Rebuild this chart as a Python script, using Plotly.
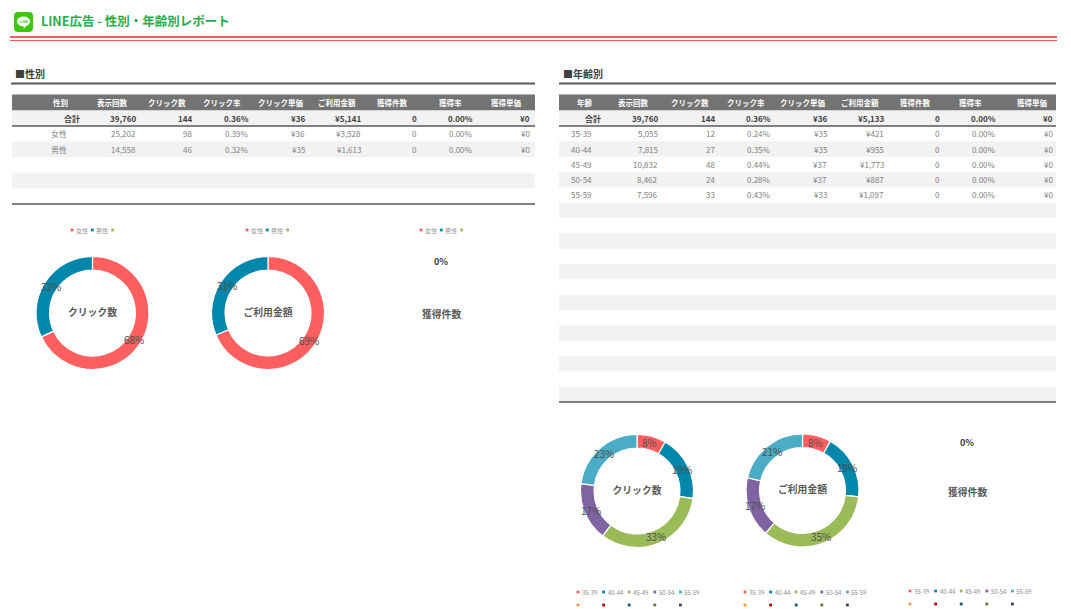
import math
import plotly.graph_objects as go

W, H = 1071, 609
FONT = "Noto Sans CJK JP"

# ---------------- data ----------------
title_text = "LINE広告 - 性別・年齢別レポート"
headers_gender = ["性別", "表示回数", "クリック数", "クリック率", "クリック単価", "ご利用金額", "獲得件数", "獲得率", "獲得単価"]
headers_age = ["年齢", "表示回数", "クリック数", "クリック率", "クリック単価", "ご利用金額", "獲得件数", "獲得率", "獲得単価"]

gender_labels = ["女性", "男性"]
gender_impressions = [25202, 14558]
gender_clicks = [98, 46]
gender_ctr = ["0.39%", "0.32%"]
gender_cpc = [36, 35]
gender_cost = [3528, 1613]
gender_conv = [0, 0]
gender_cvr = ["0.00%", "0.00%"]
gender_cpa = [0, 0]
gender_total = ["合計", "39,760", "144", "0.36%", "¥36", "¥5,141", "0", "0.00%", "¥0"]

age_labels = ["35-39", "40-44", "45-49", "50-54", "55-59"]
age_impressions = [5055, 7815, 10832, 8462, 7596]
age_clicks = [12, 27, 48, 24, 33]
age_ctr = ["0.24%", "0.35%", "0.44%", "0.28%", "0.43%"]
age_cpc = [35, 35, 37, 37, 33]
age_cost = [421, 955, 1773, 887, 1097]
age_conv = [0, 0, 0, 0, 0]
age_cvr = ["0.00%", "0.00%", "0.00%", "0.00%", "0.00%"]
age_cpa = [0, 0, 0, 0, 0]
age_total = ["合計", "39,760", "144", "0.36%", "¥36", "¥5,133", "0", "0.00%", "¥0"]

chart_titles = ["クリック数", "ご利用金額", "獲得件数"]
gender_legend_labels = ["女性", "男性", ""]
age_legend_labels = ["35-39", "40-44", "45-49", "50-54", "55-59"]

# ---------------- style ----------------
C_RED = "#ff5f5f"
C_TEAL = "#0087ab"
C_GREEN = "#9bbb59"
C_PURPLE = "#8064a2"
C_LBLUE = "#4bacc6"
gender_colors = [C_RED, C_TEAL, C_GREEN]
age_colors = [C_RED, C_TEAL, C_GREEN, C_PURPLE, C_LBLUE]
age_colors2 = ["#f79646", "#c00000", "#17596b", "#5f7530", "#4b3b6a"]


def px(x):
    return x / W


def py(y):
    return 1 - y / H


shapes = []
annotations = []


def text(x, y, s, size=8, color="#404040", xanchor="center", bold=False):
    annotations.append(dict(
        x=px(x), y=py(y), xref="paper", yref="paper", text=("<b>%s</b>" % s) if bold else s,
        showarrow=False, xanchor=xanchor, yanchor="middle",
        font=dict(family=FONT, size=size, color=color), borderpad=0))


def rect(x0, y0, x1, y1, color, layer="below"):
    shapes.append(dict(type="rect", xref="paper", yref="paper", x0=px(x0), x1=px(x1),
                       y0=py(y1), y1=py(y0), fillcolor=color, line=dict(width=0), layer=layer))


def hline(x0, x1, y, color, width):
    shapes.append(dict(type="line", xref="paper", yref="paper", x0=px(x0), x1=px(x1),
                       y0=py(y), y1=py(y), line=dict(color=color, width=width)))


def yen(v):
    return "¥{:,}".format(v)


def num(v):
    return "{:,}".format(v)


# ---------------- header ----------------
ix0, ix1, iy0, iy1, rr = 14, 33, 12, 32, 4
path = ("M {a},{b} L {c},{b} Q {x1},{b} {x1},{d} L {x1},{e} Q {x1},{y1} {c},{y1} "
        "L {a},{y1} Q {x0},{y1} {x0},{e} L {x0},{d} Q {x0},{b} {a},{b} Z").format(
    a=px(ix0 + rr), c=px(ix1 - rr), b=py(iy0), d=py(iy0 + rr), e=py(iy1 - rr),
    x0=px(ix0), x1=px(ix1), y1=py(iy1))
shapes.append(dict(type="path", xref="paper", yref="paper", path=path,
                   fillcolor="#3cc80e", line=dict(width=0)))
shapes.append(dict(type="circle", xref="paper", yref="paper", x0=px(17), x1=px(30),
                   y0=py(26.5), y1=py(16.5), fillcolor="white", line=dict(width=0)))
shapes.append(dict(type="path", xref="paper", yref="paper",
                   path="M {},{} L {},{} L {},{} Z".format(px(24), py(25.5), px(27), py(25), px(23.5), py(29)),
                   fillcolor="white", line=dict(width=0)))
text(23.5, 21.5, "LINE", size=3.5, color="#3cc80e", bold=True)
text(40, 21, title_text, size=12.5, color="#1fae4b", xanchor="left", bold=True)
hline(10, 1057, 37, "#ff5a5a", 2)
hline(10, 1057, 40.5, "#ff5a5a", 1)

# section titles
text(14, 73.5, "■性別", size=10, color="#404040", xanchor="left", bold=True)
hline(11, 535, 83.5, "#595959", 2)
text(562, 73.5, "■年齢別", size=10, color="#404040", xanchor="left", bold=True)
hline(559, 1056, 83.5, "#595959", 2)


# ---------------- tables ----------------
def draw_table(x0, x1, centers, rights, label_center, headers, total, rows, n_rows, bottom):
    top, hb, tb = 94.5, 110.5, 126
    rh = (bottom - tb) / n_rows
    rect(x0, top, x1, hb, "#737373")
    rect(x0, hb, x1, tb, "#f2f2f2")
    for i in range(n_rows):
        if i % 2 == 1:
            rect(x0, tb + i * rh, x1, tb + (i + 1) * rh, "#f2f2f2")
    hline(x0, x1, tb, "#595959", 1.5)
    hline(x0, x1, bottom, "#595959", 1.5)
    for k, h in enumerate(headers):
        text(centers[k], (top + hb) / 2, h, size=7.5, color="white", bold=True)
    for k, v in enumerate(total):
        text(rights[k], (hb + tb) / 2, v, size=8, color="#404040", xanchor="right", bold=True)
    for i, row in enumerate(rows):
        yc = tb + (i + 0.5) * rh
        for k, v in enumerate(row):
            if k == 0:
                text(label_center, yc, v, size=8, color="#7f7f7f")
            else:
                text(rights[k], yc, v, size=8, color="#7f7f7f", xanchor="right")


gender_rows = [[gender_labels[i], num(gender_impressions[i]), num(gender_clicks[i]), gender_ctr[i],
                yen(gender_cpc[i]), yen(gender_cost[i]), num(gender_conv[i]), gender_cvr[i], yen(gender_cpa[i])]
               for i in range(len(gender_labels))]
age_rows = [[age_labels[i], num(age_impressions[i]), num(age_clicks[i]), age_ctr[i],
             yen(age_cpc[i]), yen(age_cost[i]), num(age_conv[i]), age_cvr[i], yen(age_cpa[i])]
            for i in range(len(age_labels))]

draw_table(12, 535, [60, 112, 167, 222, 281, 337, 393, 450, 506],
           [81, 137, 193, 250, 306, 362, 418, 474, 531], 59, headers_gender, gender_total, gender_rows, 5, 204)
draw_table(559, 1056, [584.5, 633, 690, 745.5, 803, 860, 915, 970.5, 1032],
           [602, 659, 716, 772, 828, 885, 941, 997, 1054], 581.5, headers_age, age_total, age_rows, 18, 402)


# ---------------- legends ----------------
def legend_row(x_start, step, y, colors, labels):
    for i, c in enumerate(colors):
        xm = x_start + i * step
        shapes.append(dict(type="rect", xref="paper", yref="paper", x0=px(xm - 1.4), x1=px(xm + 1.4),
                           y0=py(y + 1.4), y1=py(y - 1.4), fillcolor=c, line=dict(width=0)))
        if labels[i]:
            text(xm + 3, y, labels[i], size=6, color="#8c8c8c", xanchor="left")


for xs in (72, 247, 421):
    legend_row(xs, 20.3, 230, gender_colors, gender_legend_labels)
for xs, yy in ((578, 592), (745, 592), (910, 591)):
    legend_row(xs, 25.6, yy, age_colors, age_legend_labels)
    legend_row(xs, 25.6, yy + 13, age_colors2, ["", "", "", "", ""])

# ---------------- donuts ----------------
R = 56.5
HOLE = 0.76
fig = go.Figure()


def donut(cx, cy, labels, values, colors, title):
    fig.add_trace(go.Pie(
        labels=labels, values=values, hole=HOLE, sort=False, direction="clockwise", rotation=0,
        domain=dict(x=[px(cx - R), px(cx + R)], y=[py(cy + R), py(cy - R)]),
        marker=dict(colors=colors, line=dict(color="white", width=1.2)),
        textinfo="none",
        title=dict(text="<b>%s</b>" % title, position="middle center",
                   font=dict(family=FONT, size=9.8, color="#595959")),
        showlegend=False, hoverinfo="label+value+percent"))
    # percent labels at the middle of each ring segment, derived from the values
    total = float(sum(values))
    rm = R * (1 + HOLE) / 2
    cum = 0.0
    for v in values:
        frac = (cum + v / 2.0) / total
        ang = 2 * math.pi * frac
        text(cx + rm * math.sin(ang), cy - rm * math.cos(ang), "{:.0f}%".format(100 * v / total),
             size=10, color="#4d4d4d")
        cum += v


donut(92.5, 313, gender_labels, gender_clicks, gender_colors[:2], chart_titles[0])
donut(268, 313, gender_labels, gender_cost, gender_colors[:2], chart_titles[1])
donut(637, 491, age_labels, age_clicks, age_colors, chart_titles[0])
donut(802.5, 490.5, age_labels, age_cost, age_colors, chart_titles[1])

# conversions donuts: all zero -> only label and title
text(441, 262, "0%", size=9, color="#404040", bold=True)
text(441, 314, chart_titles[2], size=9.8, color="#595959", bold=True)
text(967, 442, "0%", size=9, color="#404040", bold=True)
text(967, 492, chart_titles[2], size=9.8, color="#595959", bold=True)

fig.update_layout(
    width=W, height=H, margin=dict(l=0, r=0, t=0, b=0),
    paper_bgcolor="white", plot_bgcolor="white",
    shapes=shapes, annotations=annotations,
    font=dict(family=FONT),
)

fig.write_html("out.html", config={"displayModeBar": False},
               post_script="document.body.style.margin='0px';document.body.style.overflow='hidden';")
